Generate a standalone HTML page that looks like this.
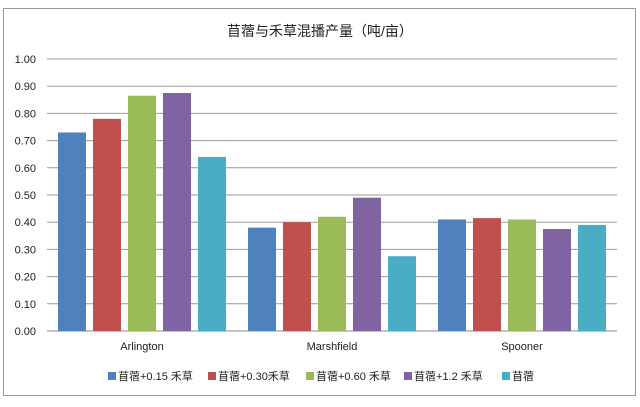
<!DOCTYPE html>
<html><head><meta charset="utf-8"><style>
body{margin:0;background:#fff;width:640px;height:402px;overflow:hidden}
svg text{font-family:"Liberation Sans","Noto Sans CJK SC",sans-serif;fill:#222}
</style></head><body>
<svg width="640" height="402">
<rect x="3.5" y="8.5" width="632" height="387" fill="#fff" stroke="#999"/>
<text x="320" y="36" font-size="14" text-anchor="middle">苜蓿与禾草混播产量（吨/亩）</text>
<g id="grid"></g><g id="bars"></g><g id="labels"></g><g id="legend"></g>
</svg>
<script>
const categories=["Arlington","Marshfield","Spooner"];
const seriesNames=["苜蓿+0.15 禾草","苜蓿+0.30禾草","苜蓿+0.60 禾草","苜蓿+1.2 禾草","苜蓿"];
const s1=[0.73,0.38,0.41];
const s2=[0.78,0.40,0.415];
const s3=[0.865,0.42,0.41];
const s4=[0.875,0.49,0.375];
const s5=[0.64,0.275,0.39];
const ticks=[0,0.1,0.2,0.3,0.4,0.5,0.6,0.7,0.8,0.9,1.0];
const series=[s1,s2,s3,s4,s5];
const colors=["#4F81BD","#C0504D","#9BBB59","#8064A2","#4BACC6"];
const NS="http://www.w3.org/2000/svg";
const x0=47,x1=617,yTop=59,yBot=331;
const y=v=>yBot-(v/1.0)*(yBot-yTop);
const gw=(x1-x0)/categories.length;
function mk(t,a,p){const e=document.createElementNS(NS,t);for(const k in a)e.setAttribute(k,a[k]);p.appendChild(e);return e;}
const grid=document.getElementById('grid'),bars=document.getElementById('bars'),labels=document.getElementById('labels'),legend=document.getElementById('legend');
ticks.forEach(t=>{
 const l=mk('line',{x1:x0,x2:x1,y1:y(t),y2:y(t),stroke:t===0?'#888':'#999','stroke-width':1},grid);
 
 
 const tx=mk('text',{x:36,y:y(t)+4,'font-size':11,'text-anchor':'end'},grid);
 tx.textContent=t.toFixed(2);
 
 
});
categories.forEach((c,i)=>{
 series.forEach((s,j)=>{
  const bx=x0+i*gw+7.5+3.5+j*35;
  const r=mk('rect',{x:bx,y:y(s[i]),width:28,height:yBot-y(s[i]),fill:colors[j]},bars);
  
  
 });
 const t=mk('text',{x:x0+i*gw+gw/2,y:350,'font-size':11,'text-anchor':'middle'},labels);
 t.textContent=c;
 
 
});
const lx=[108,208,306,404,502];
seriesNames.forEach((n,j)=>{
 const g=mk('g',{},legend);
 
 
 mk('rect',{x:lx[j],y:372,width:8,height:8,fill:colors[j]},g);
 const t=mk('text',{x:lx[j]+10,y:380,'font-size':11},g);
 t.textContent=n;
});
</script>
</body></html>
